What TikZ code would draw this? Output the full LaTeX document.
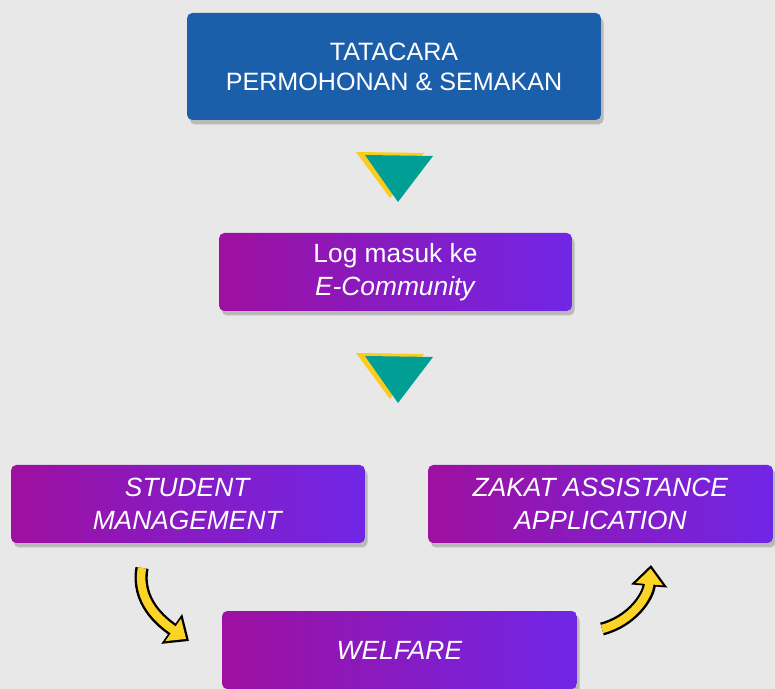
\documentclass[tikz,border=0pt]{standalone}
\usepackage{fontspec}
\setmainfont{Liberation Sans}
\usetikzlibrary{shadows,arrows.meta}
\definecolor{bggrey}{RGB}{232,232,232}
\definecolor{boxblue}{RGB}{27,94,170}
\definecolor{plum}{RGB}{158,16,160}
\definecolor{violetright}{RGB}{112,38,230}
\definecolor{tealtri}{RGB}{0,158,148}
\definecolor{goldtri}{RGB}{250,204,30}
\definecolor{arrowyellow}{RGB}{252,212,40}

\tikzset{
  stepbox/.style={rounded corners=3pt, text=white, align=center, minimum height=1.56cm,
    drop shadow={shadow xshift=1.5pt, shadow yshift=-2.5pt, opacity=0.45}},
  purplebox/.style={stepbox, left color=plum, right color=violetright,
    font=\fontsize{15}{18.7}\selectfont},
  curvebody/.style={line width=7.5pt, -{Triangle[length=12pt,width=20pt]}},
  curvefill/.style={arrowyellow, line width=4.8pt, shorten >=2pt, -{Triangle[length=9pt,width=15pt]}}
}

\begin{document}
\begin{tikzpicture}[x=0.02cm,y=0.02cm]
\fill[bggrey] (0,0) rectangle (775,689);
\useasboundingbox (0,0) rectangle (775,689);

\node[stepbox, fill=boxblue, minimum width=8.28cm, minimum height=2.14cm,
  font=\fontsize{14.3}{17}\selectfont] (title) at (394,622.5) {TATACARA\\PERMOHONAN \& SEMAKAN};
\node[purplebox, minimum width=7.06cm] (login) at (395.5,417) {Log masuk ke\\\textit{E-Community}};
\node[purplebox, minimum width=7.08cm] (student) at (188,185) {\textit{STUDENT}\\\textit{MANAGEMENT}};
\node[purplebox, minimum width=6.9cm] (zakat) at (600.5,185) {\textit{ZAKAT ASSISTANCE}\\\textit{APPLICATION}};
\node[purplebox, minimum width=7.1cm] (welfare) at (399.5,39) {\textit{WELFARE}};

% down markers
\fill[goldtri] (356,537) -- (424,536) -- (390,491) -- cycle;
\fill[tealtri] (365,534) -- (433,533) -- (398,487) -- cycle;
\fill[goldtri] (356,336) -- (424,335) -- (390,290) -- cycle;
\fill[tealtri] (365,333) -- (433,332) -- (398,286) -- cycle;

% curved arrows
\coordinate (sm-tail) at (142,121);
\coordinate (wf-in) at (189,48);
\coordinate (wf-out) at (602,60);
\coordinate (zk-in) at (651,124);
\draw[curvebody] (sm-tail) to[out=-100,in=145] (wf-in);
\draw[curvefill] (sm-tail) to[out=-100,in=145] (wf-in);
\draw[curvebody] (wf-out) to[out=15,in=-95] (zk-in);
\draw[curvefill] (wf-out) to[out=15,in=-95] (zk-in);
\end{tikzpicture}
\end{document}
